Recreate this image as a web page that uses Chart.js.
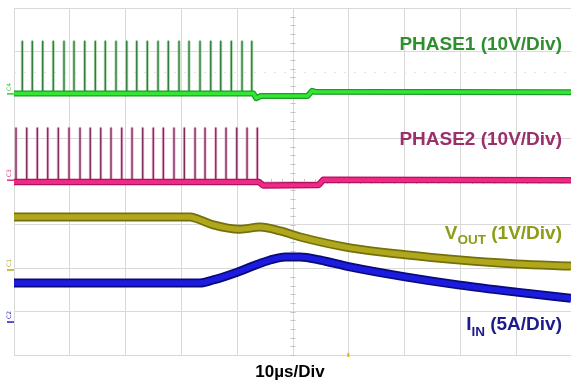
<!DOCTYPE html>
<html>
<head>
<meta charset="utf-8">
<script src="https://cdn.jsdelivr.net/npm/chart.js@4.4.0/dist/chart.umd.min.js"></script>
<style>
  html, body { margin: 0; padding: 0; background: #fff; overflow: hidden; }
  canvas { display: block; }
</style>
</head>
<body>
<canvas id="scope" width="571" height="384"></canvas>
<script>
// time in µs (10 µs/div), vertical position in screen divisions (8 div tall)
var phase1Pulses = [1.49, 3.28, 5.14, 7.04, 8.96, 10.75, 12.67, 14.57, 16.36, 18.28, 20.20, 21.99,
                    23.89, 25.81, 27.65, 29.57, 31.36, 33.33, 35.25, 37.04, 38.94, 40.86, 42.60];
var phase2Pulses = [0.36, 2.28, 4.18, 6.04, 7.94, 9.86, 11.83, 13.67, 15.54, 17.38, 19.30, 21.15,
                    23.06, 24.96, 26.76, 28.67, 30.52, 32.44, 34.23, 36.15, 37.99, 39.91, 41.76, 43.60];
var phase1Peak = 7.23;
var phase2Peak = 5.23;

var phase1Time  = [0, 42.9, 43.4, 44.2, 52.6, 53.4, 53.9, 99.8];
var phase1Level = [6.03, 6.03, 5.92, 5.97, 5.97, 6.09, 6.07, 6.06];
var phase2Time  = [0, 43.9, 44.6, 54.6, 55.4, 99.8];
var phase2Level = [3.99, 3.99, 3.91, 3.92, 4.04, 4.03];

var voutTime  = [0, 31.5, 32.8, 35.7, 40.5, 44.1, 47.7, 51.3, 60.2, 70.1, 79.9, 90.0, 99.8];
var voutLevel = [3.18, 3.18, 3.14, 3.00, 2.90, 2.95, 2.86, 2.72, 2.47, 2.31, 2.19, 2.10, 2.05];
var iinTime   = [0, 33.3, 35.7, 40.0, 43.2, 45.9, 48.6, 51.3, 54.8, 60.2, 70.1, 79.9, 90.0, 99.8];
var iinLevel  = [1.66, 1.66, 1.73, 1.91, 2.07, 2.19, 2.26, 2.26, 2.19, 2.03, 1.80, 1.61, 1.45, 1.31];

// channel ground markers on the left edge
var groundNames  = ['C4', 'C3', 'C1', 'C2'];
var groundLevels = [6.02, 4.03, 1.96, 0.76];
var groundColors = ['#3cc43c', '#d8307a', '#b0a820', '#2020c0'];

var triggerLevel = 6.52;
var triggerTime = 59.9;

function points(ts, vs) {
  return ts.map(function (t, i) { return { x: t, y: vs[i] }; });
}

function pulseTrain(ts, base, peak) {
  var out = [];
  ts.forEach(function (t) {
    out.push({ x: t, y: base }, { x: t, y: peak }, { x: t, y: base });
  });
  return out;
}

function trace(data, color, width, order, smooth) {
  return {
    data: data,
    borderColor: color,
    borderWidth: width,
    pointRadius: 0,
    fill: false,
    order: order,
    tension: 0,
    cubicInterpolationMode: smooth ? 'monotone' : 'default',
    borderJoinStyle: 'round'
  };
}

var p1Pulse = pulseTrain(phase1Pulses, phase1Level[0], phase1Peak);
var p2Pulse = pulseTrain(phase2Pulses, phase2Level[0], phase2Peak);
var p1 = points(phase1Time, phase1Level);
var p2 = points(phase2Time, phase2Level);
var vout = points(voutTime, voutLevel);
var iin = points(iinTime, iinLevel);

var overlay = {
  id: 'overlay',
  beforeDatasetsDraw: function (chart) {
    var c = chart.ctx, xs = chart.scales.x, ys = chart.scales.y, a = chart.chartArea;
    var cx = xs.getPixelForValue(50), cy = ys.getPixelForValue(4);
    c.save();
    c.strokeStyle = '#c4c4c4';
    c.lineWidth = 1;
    c.beginPath();
    for (var t = 0; t <= 100; t += 2) {
      var px = Math.round(xs.getPixelForValue(t)) + 0.5;
      c.moveTo(px, cy - 2.5); c.lineTo(px, cy + 2.5);
    }
    for (var v = 0; v <= 8; v += 0.2) {
      var py = Math.round(ys.getPixelForValue(v)) + 0.5;
      c.moveTo(cx - 2.5, py); c.lineTo(cx + 2.5, py);
    }
    c.stroke();
    // trigger level
    c.setLineDash([2, 8]);
    c.strokeStyle = '#e2e2e2';
    var ty = Math.round(ys.getPixelForValue(triggerLevel)) + 0.5;
    c.beginPath(); c.moveTo(a.left, ty); c.lineTo(a.right, ty); c.stroke();
    c.restore();
  },
  afterDraw: function (chart) {
    var c = chart.ctx, xs = chart.scales.x, ys = chart.scales.y, a = chart.chartArea;
    c.save();
    // ground markers
    groundNames.forEach(function (n, i) {
      var y = ys.getPixelForValue(groundLevels[i]);
      c.strokeStyle = groundColors[i];
      c.lineWidth = 1.5;
      c.beginPath(); c.moveTo(a.left - 7, y); c.lineTo(a.left, y); c.stroke();
      c.save();
      c.translate(a.left - 5, y - 3);
      c.rotate(-Math.PI / 2);
      c.fillStyle = groundColors[i];
      c.font = '6px "DejaVu Sans"';
      c.textAlign = 'left';
      c.textBaseline = 'middle';
      c.fillText(n, 0, 0);
      c.restore();
    });
    // trigger position mark
    var tx = xs.getPixelForValue(triggerTime);
    c.fillStyle = '#e0b020';
    c.fillRect(tx - 1, a.bottom - 2, 2, 4);

    function label(parts, right, base, color) {
      var w = 0;
      parts.forEach(function (p) { c.font = 'bold ' + p[1] + 'px "Liberation Sans"'; w += c.measureText(p[0]).width; });
      var x = right - w;
      c.fillStyle = color;
      c.textAlign = 'left';
      c.textBaseline = 'alphabetic';
      parts.forEach(function (p) {
        c.font = 'bold ' + p[1] + 'px "Liberation Sans"';
        c.fillText(p[0], x, base + (p[2] || 0));
        x += c.measureText(p[0]).width;
      });
    }
    label([['PHASE1 (10V/Div)', 19]], 562, 50, '#2f8f2f');
    label([['PHASE2 (10V/Div)', 19]], 562, 145, '#9b2f6b');
    label([['V', 19], ['OUT', 13.5, 5], [' (1V/Div)', 19]], 562, 238.5, '#8e9c18');
    label([['I', 19], ['IN', 13.5, 6], [' (5A/Div)', 19]], 562, 329.5, '#1c1c8c');

    c.font = 'bold 17px "Liberation Sans"';
    c.fillStyle = '#000';
    c.textAlign = 'center';
    c.fillText('10\u00b5s/Div', 290, 377);
    c.restore();
  }
};

new Chart(document.getElementById('scope'), {
  type: 'line',
  data: {
    datasets: [
      trace(p1Pulse, 'rgba(140,200,140,0.7)', 3, 20),
      trace(p1Pulse, '#2f7a3c', 1.3, 19),
      trace(p2Pulse, 'rgba(225,150,190,0.7)', 3, 20),
      trace(p2Pulse, '#7c2a58', 1.3, 19),
      trace(p1, '#1f9a2a', 6, 10),
      trace(p1, '#33e633', 3.5, 9),
      trace(p2, '#b0125c', 6.5, 10),
      trace(p2, '#ee2a86', 4, 9),
      trace(vout, '#75700a', 9, 10, true),
      trace(vout, '#b0a81c', 5.5, 9, true),
      trace(iin, '#0a0a78', 9, 10, true),
      trace(iin, '#1c1ce0', 5.5, 9, true)
    ]
  },
  options: {
    responsive: false,
    animation: false,
    events: [],
    layout: { padding: { left: 14, top: 8, right: 0, bottom: 29 } },
    plugins: { legend: { display: false }, tooltip: { enabled: false } },
    scales: {
      x: {
        type: 'linear', min: 0, max: 99.8,
        ticks: { display: false, stepSize: 10 },
        grid: { color: '#d9d9d9', drawTicks: false },
        border: { display: false }
      },
      y: {
        type: 'linear', min: 0, max: 8,
        ticks: { display: false, stepSize: 1 },
        grid: { color: '#d9d9d9', drawTicks: false },
        border: { display: false }
      }
    }
  },
  plugins: [overlay]
});
</script>
</body>
</html>
